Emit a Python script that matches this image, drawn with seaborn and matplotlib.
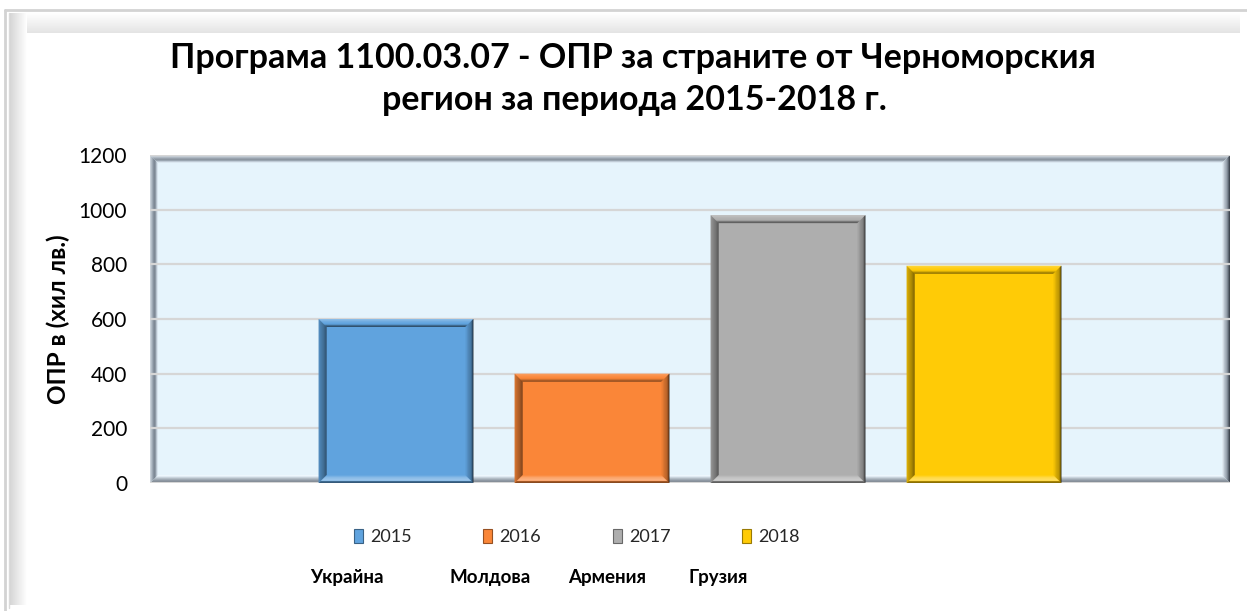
import numpy as np
import pandas as pd
import matplotlib
matplotlib.use("Agg")
import matplotlib.pyplot as plt
import matplotlib.colors as mcolors
from matplotlib.patches import Polygon, Patch
from matplotlib.transforms import IdentityTransform
import seaborn as sns

# ---------------- data ----------------
years = ["2015", "2016", "2017", "2018"]
values = [600, 400, 980, 795]
colors = ["#60A3DE", "#FA8638", "#AEAEAE", "#FFCB06"]
countries = ["Украйна", "Молдова", "Армения", "Грузия"]
title_lines = ["Програма 1100.03.07 - ОПР за страните от Черноморския",
               "регион за периода 2015-2018 г."]
ylabel = "ОПР в (хил лв.)"
yticks = [0, 200, 400, 600, 800, 1000, 1200]

sns.set_theme(style="white")
plt.rcParams['font.family'] = ['Lato', 'DejaVu Sans']

W, H = 1247, 611
fig = plt.figure(figsize=(W / 100, H / 100), dpi=100)
fig.patch.set_facecolor("white")


def fx(px):
    return px / W


def fy(py):
    return 1 - py / H


# ---------- background frame (chart area border with shadow) ----------
bg = fig.add_axes([0, 0, 1, 1], zorder=-5)
bg.set_xlim(0, W)
bg.set_ylim(H, 0)
bg.axis("off")
cmap_sh = mcolors.LinearSegmentedColormap.from_list("sh", ["#D6D6D6", "#FFFFFF"])
cmap_sh2 = mcolors.LinearSegmentedColormap.from_list("sh2", ["#E4E4E4", "#FFFFFF"])
grad_h = np.linspace(0, 1, 64)[None, :]
bg.imshow(grad_h, extent=(10, 27, 605, 13), cmap=cmap_sh, aspect="auto", zorder=1)
grad_v = np.linspace(0, 1, 64)[:, None]
bg.imshow(grad_v, extent=(10, 1240, 13, 33), cmap=cmap_sh2, aspect="auto", origin="upper", zorder=0.9)
bg.plot([5, 5], [10, 611], color="#D3D3D3", lw=2, zorder=2)
bg.plot([5, 1247], [10, 10], color="#D3D3D3", lw=2, zorder=2)
bg.plot([9, 9], [13, 608], color="#DADADA", lw=1, zorder=2)

# ---------------- main axes ----------------
ax = fig.add_axes([fx(150), fy(483), fx(1230) - fx(150), fy(155) - fy(483)])
df = pd.DataFrame({"year": years, "value": values})
sns.barplot(data=df, x="year", y="value", hue="year", palette=colors,
            width=0.79, saturation=1, legend=False, ax=ax, zorder=2,
            edgecolor="none", linewidth=0)
ax.set_xlim(-1.255, 4.255)
ax.set_ylim(0, 1200)
ax.set_yticks(yticks)
ax.set_yticklabels([str(v) for v in yticks], fontsize=15, color="black")
ax.set_xticks([])
ax.set_xlabel("")
ax.set_ylabel(ylabel, fontsize=17.5, fontweight="bold", color="black", labelpad=6)
ax.tick_params(axis="y", length=0, pad=16.5)
ax.set_facecolor("#E6F4FC")
for s in ax.spines.values():
    s.set_visible(False)
ax.set_axisbelow(True)
ax.yaxis.grid(True, color="#D6D6D6", lw=1.6, zorder=0.6)

ident = IdentityTransform()


def mix(c, other, t):
    a = np.array(mcolors.to_rgb(c))
    b = np.array(mcolors.to_rgb(other))
    return tuple(a * (1 - t) + b * t)


def bevel(axis, x0, y0, x1, y1, sides, z):
    """x0<x1, y0<y1 in display pixels (y up). sides: dict of lists outer->inner."""
    n = len(sides["left"])
    for i in range(n):
        a, b = i, i + 1
        polys = {
            "left": [(x0 + a, y0 + a), (x0 + a, y1 - a), (x0 + b, y1 - b), (x0 + b, y0 + b)],
            "right": [(x1 - a, y0 + a), (x1 - a, y1 - a), (x1 - b, y1 - b), (x1 - b, y0 + b)],
            "top": [(x0 + a, y1 - a), (x1 - a, y1 - a), (x1 - b, y1 - b), (x0 + b, y1 - b)],
            "bottom": [(x0 + a, y0 + a), (x1 - a, y0 + a), (x1 - b, y0 + b), (x0 + b, y0 + b)],
        }
        for side in ["top", "bottom", "left", "right"]:
            p = Polygon(polys[side], closed=True, facecolor=sides[side][i],
                        edgecolor="none", transform=ident, zorder=z)
            p.set_clip_on(False)
            axis.add_artist(p)


# plot area walls
fig.canvas.draw()
bb = ax.get_window_extent()
wall = {
    "left": ["#C9D1D9", "#B3BDC7", "#9DA8B3", "#8893A0", "#7E8995", "#8F9AA6", "#B7C3CE", "#D8E4EE"],
    "top": ["#D6DCE2", "#C3CBD3", "#AEB8C2", "#99A3AE", "#8C96A1", "#9AA5B0", "#C0CBD6", "#DCE8F1"],
    "right": ["#3F4650", "#5E6772", "#7E8894", "#98A2AD", "#A9B3BE", "#B9C3CD", "#CFD9E2", "#E0EAF2"],
    "bottom": ["#6E7883", "#7D8792", "#8E98A3", "#A0AAB4", "#B3BDC6", "#C9D3DC", "#E0EAF2", "#EEF7FD"],
}
bevel(ax, bb.x0, bb.y0, bb.x1, bb.y1, wall, z=0.5)

# bar bevels
for patch, col in zip(ax.patches, colors):
    x = patch.get_x()
    w = patch.get_width()
    h = patch.get_height()
    (px0, py0) = ax.transData.transform((x, 0))
    (px1, py1) = ax.transData.transform((x + w, h))
    sides = {
        "top": [mix(col, "white", 0.25), mix(col, "white", 0.18), mix(col, "white", 0.1),
                mix(col, "white", 0.05), col, mix(col, "black", 0.1), mix(col, "black", 0.35),
                mix(col, "black", 0.5)],
        "left": [mix(col, "black", 0.15), mix(col, "black", 0.25), mix(col, "black", 0.3),
                 mix(col, "black", 0.35), mix(col, "black", 0.4), mix(col, "black", 0.45),
                 mix(col, "black", 0.55), mix(col, "black", 0.6)],
        "right": [mix(col, "black", 0.85), mix(col, "black", 0.6), mix(col, "black", 0.35),
                  mix(col, "black", 0.3), mix(col, "black", 0.25), mix(col, "black", 0.2),
                  mix(col, "black", 0.12), mix(col, "black", 0.05)],
        "bottom": [mix(col, "black", 0.45), mix(col, "black", 0.35), mix(col, "white", 0.3),
                   mix(col, "white", 0.35), mix(col, "white", 0.3), mix(col, "white", 0.25),
                   mix(col, "white", 0.15), mix(col, "white", 0.05)],
    }
    bevel(ax, px0, py0, px1, py1, sides, z=3)

# ---------------- title ----------------
fig.text(fx(633), fy(58), title_lines[0], ha="center", va="center",
         fontsize=24.5, fontweight="bold", color="black")
fig.text(fx(634), fy(100), title_lines[1], ha="center", va="center",
         fontsize=24.5, fontweight="bold", color="black")

# ---------------- legend ----------------
handles = [Patch(facecolor=c, edgecolor=mix(c, "black", 0.4), linewidth=0.8, label=y)
           for c, y in zip(colors, years)]
fig.legend(handles=handles, loc="center", bbox_to_anchor=(fx(577), fy(537)),
           ncol=4, frameon=False, fontsize=13, handlelength=0.5, handleheight=0.8,
           handletextpad=0.4, columnspacing=3.96)

# ---------------- country labels ----------------
country_x = [347, 490, 607, 718]
for name, cx in zip(countries, country_x):
    fig.text(fx(cx), fy(577), name, ha="center", va="center",
             fontsize=13.5, fontweight="bold", color="black")

fig.savefig("out.png", dpi=100)
